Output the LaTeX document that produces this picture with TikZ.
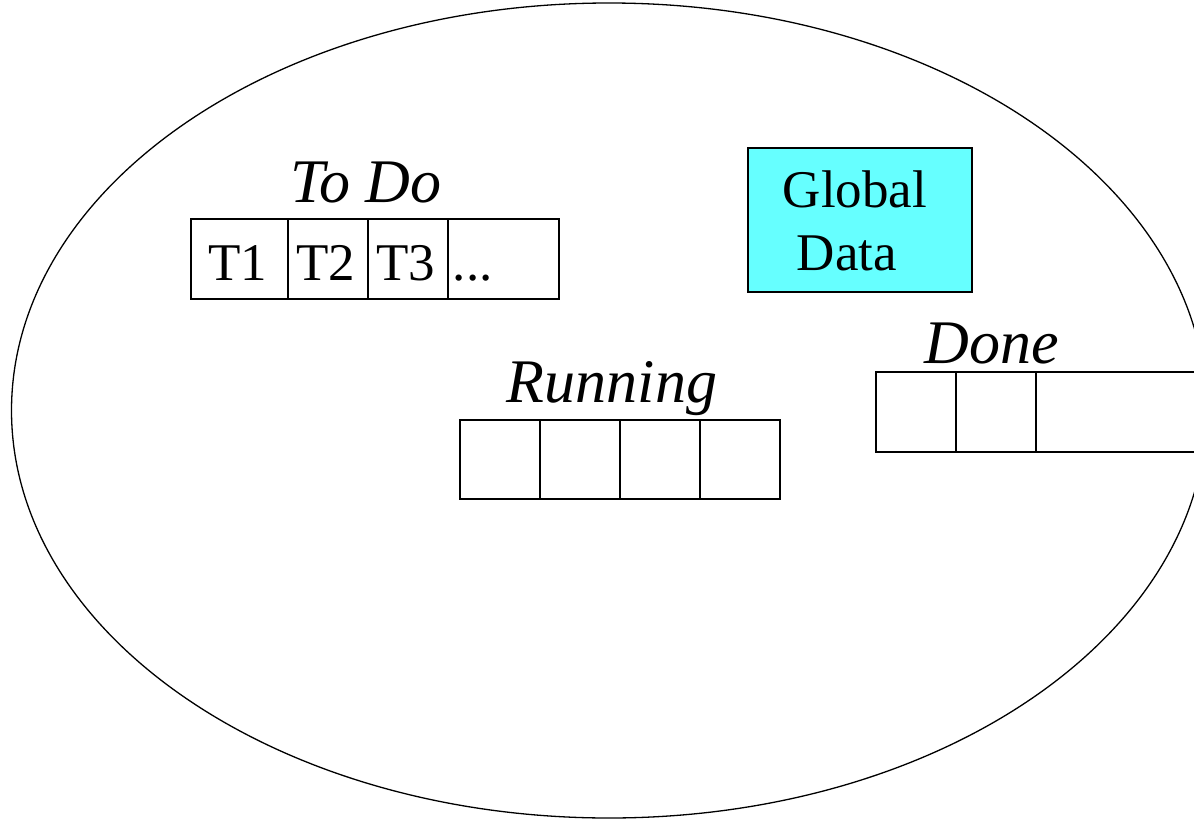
\documentclass[tikz,border=0pt]{standalone}
\usepackage{fontspec}
\setmainfont{Liberation Serif}
\definecolor{globalfill}{HTML}{66FFFF}
\begin{document}
\begin{tikzpicture}[x=1pt,y=-1pt,line width=1.5pt,
  cell/.style={draw,rectangle,inner sep=0pt,anchor=north west,minimum height=80pt},
  tag/.style={inner sep=0pt,anchor=base,font=\fontsize{62}{70}\selectfont\itshape},
  word/.style={inner sep=0pt,anchor=base,font=\fontsize{53}{63}\selectfont}]
\useasboundingbox (0,0) rectangle (1194,819);
\clip (0,0) rectangle (1194,819);

% process boundary
\draw[line width=1.3pt] (609,410.5) ellipse [x radius=597.5pt,y radius=407.5pt];

% shared data
\node[cell,fill=globalfill,minimum width=224pt,minimum height=144pt] (glob) at (747,147) {};
\node[word] (globA) at (855,207) {Global};
\node[word] (globB) at (847,270) {Data};

% queue of tasks waiting
\node[tag] (todoLab) at (366,202) {To Do};
\node[cell,minimum width=97pt]  (todo1) at (190,218) {};
\node[cell,minimum width=80pt]  (todo2) at (287,218) {};
\node[cell,minimum width=80pt]  (todo3) at (367,218) {};
\node[cell,minimum width=111pt] (todo4) at (447,218) {};
\node[word] (t1) at (238,280) {T1};
\node[word] (t2) at (326,280) {T2};
\node[word] (t3) at (406,280) {T3};
\node[word,anchor=base west] (tdots) at (452,280) {...};

% tasks being executed
\node[tag] (runLab) at (612,402) {Running};
\node[cell,minimum width=80pt,minimum height=79pt] (run1) at (459,419) {};
\node[cell,minimum width=80pt,minimum height=79pt] (run2) at (539,419) {};
\node[cell,minimum width=80pt,minimum height=79pt] (run3) at (619,419) {};
\node[cell,minimum width=80pt,minimum height=79pt] (run4) at (699,419) {};

% finished tasks
\node[tag] (doneLab) at (992,363) {Done};
\node[cell,minimum width=80pt]  (done1) at (875,371) {};
\node[cell,minimum width=80pt]  (done2) at (955,371) {};
\node[cell,minimum width=200pt] (done3) at (1035,371) {};
\end{tikzpicture}
\end{document}
